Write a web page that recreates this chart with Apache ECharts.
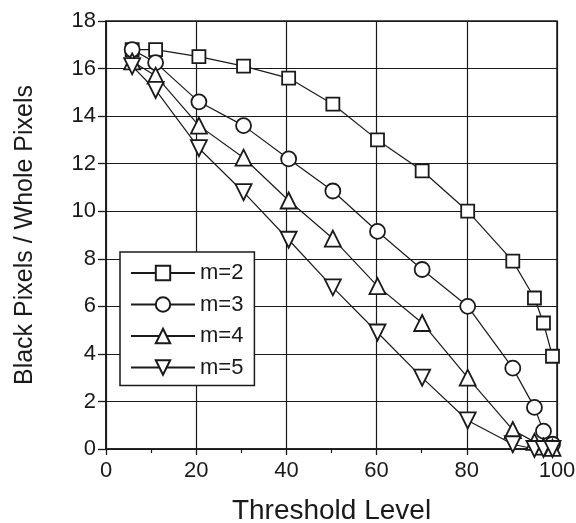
<!DOCTYPE html>
<html>
<head>
<meta charset="utf-8">
<script src="https://cdn.jsdelivr.net/npm/echarts@6/dist/echarts.min.js"></script>
<style>
html,body{margin:0;padding:0;background:#fff;}
#chart{width:576px;height:523px;}
</style>
</head>
<body>
<div id="chart"></div>
<script>
var thresholds = [5.8, 11, 20.6, 30.5, 40.5, 50.3, 60.2, 70.1, 80.2, 90.2, 95, 97, 99];
var m2 = [16.8, 16.8, 16.5, 16.1, 15.6, 14.5, 13.0, 11.7, 10.0, 7.9, 6.35, 5.3, 3.9];
var m3 = [16.8, 16.25, 14.6, 13.6, 12.2, 10.85, 9.15, 7.55, 6.0, 3.4, 1.75, 0.75, 0.2];
var m4 = [16.3, 15.7, 13.6, 12.25, 10.45, 8.85, 6.85, 5.3, 3.0, 0.8, 0.3, 0.1, 0.05];
var m5 = [16.1, 15.1, 12.65, 10.8, 8.8, 6.8, 4.9, 3.0, 1.2, 0.2, 0, 0, 0];
var seriesNames = ['m=2', 'm=3', 'm=4', 'm=5'];
var xTicks = [0, 20, 40, 60, 80, 100];
var yTicks = [0, 2, 4, 6, 8, 10, 12, 14, 16, 18];

var INK = '#1a1a1a';
var FONT = '"Liberation Sans", Arial, sans-serif';
var symbols = ['rect', 'circle', 'triangle', 'path://M0,0L10,0L5,10Z'];
var sizes = [13, 15, 16, 16];
var allData = [m2, m3, m4, m5];

function pairs(ys) {
  return thresholds.map(function (x, i) { return [x, ys[i]]; });
}

var series = allData.map(function (ys, k) {
  return {
    name: seriesNames[k],
    type: 'line',
    data: pairs(ys),
    symbol: symbols[k],
    symbolSize: sizes[k],
    showAllSymbol: true,
    clip: false,
    z: 3,
    lineStyle: { color: INK, width: 1.2 },
    itemStyle: { color: '#fff', borderColor: INK, borderWidth: 1.8 },
    emphasis: { disabled: true },
    animation: false
  };
});

var chart = echarts.init(document.getElementById('chart'), null, { renderer: 'canvas' });
chart.setOption({
  backgroundColor: '#fff',
  animation: false,
  textStyle: { fontFamily: FONT, color: INK },
  grid: {
    left: 106, right: 19, top: 21, bottom: 74,
    containLabel: false,
    outerBoundsMode: 'none',
    show: true, borderColor: INK, borderWidth: 1.5, backgroundColor: 'transparent'
  },
  legend: {
    data: seriesNames,
    orient: 'vertical',
    left: 120,
    top: 252,
    itemWidth: 64,
    itemHeight: 18,
    itemGap: 9.5,
    padding: [10, 11, 7, 10],
    backgroundColor: '#fff',
    borderColor: INK,
    borderWidth: 1.5,
    borderRadius: 0,
    textStyle: { fontSize: 22, color: INK, fontFamily: FONT },
    selectedMode: false
  },
  xAxis: {
    type: 'value',
    min: 0, max: 100, interval: 20,
    name: 'Threshold Level',
    nameLocation: 'middle',
    nameGap: 48,
    nameTextStyle: { fontSize: 28, color: INK, fontFamily: FONT },
    axisLine: { show: true, onZero: false, lineStyle: { color: INK, width: 1.5 } },
    axisTick: { show: true, inside: false, length: 6, lineStyle: { color: INK, width: 1.3 } },
    minorTick: { show: true, splitNumber: 2, length: 4, lineStyle: { color: INK, width: 1.2 } },
    axisLabel: {
      fontSize: 22, color: INK, margin: 11, fontFamily: FONT,
      formatter: function (v) { return xTicks.indexOf(v) >= 0 ? String(v) : ''; }
    },
    splitLine: { show: true, lineStyle: { color: INK, width: 1.2 } }
  },
  yAxis: {
    type: 'value',
    min: 0, max: 18, interval: 2,
    name: 'Black Pixels / Whole Pixels',
    nameLocation: 'middle',
    nameGap: 68,
    nameRotate: 90,
    nameTextStyle: { fontSize: 25, color: INK, fontFamily: FONT },
    axisLine: { show: true, onZero: false, lineStyle: { color: INK, width: 1.5 } },
    axisTick: { show: true, inside: false, length: 8, lineStyle: { color: INK, width: 1.3 } },
    axisLabel: {
      fontSize: 22, color: INK, margin: 10, fontFamily: FONT,
      formatter: function (v) { return yTicks.indexOf(v) >= 0 ? String(v) : ''; }
    },
    splitLine: { show: true, lineStyle: { color: INK, width: 1.2 } }
  },
  series: series
});
</script>
</body>
</html>
